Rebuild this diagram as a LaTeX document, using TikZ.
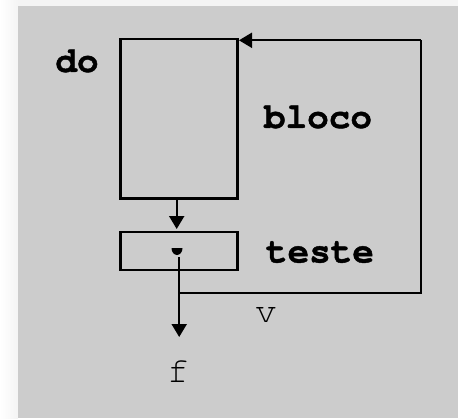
\documentclass[tikz,border=0pt]{standalone}
\usepackage{fontspec}
\setmonofont{texgyrecursor-regular.otf}[BoldFont=texgyrecursor-bold.otf, BoldFeatures={FakeBold=1.2}]
\usetikzlibrary{arrows.meta}
\definecolor{bggray}{HTML}{CCCCCC}
\definecolor{topstrip}{HTML}{F4F4F4}
\tikzset{
  boxstyle/.style={draw=black, line width=2.6pt, fill=bggray, inner sep=0pt},
  flow/.style={line width=2.2pt, -{Triangle[length=13pt,width=15pt]}},
  loopline/.style={line width=2.2pt},
  kw/.style={font=\fontsize{36}{36}\selectfont\ttfamily\bfseries, inner sep=0pt},
  lbl/.style={font=\fontsize{36}{36}\selectfont\ttfamily, inner sep=0pt},
}
\begin{document}
\begin{tikzpicture}[x=1pt,y=-1pt]
  \useasboundingbox (0,0) rectangle (458,418);
  % background
  \fill[white] (0,0) rectangle (458,418);
  \fill[topstrip] (18,0) rectangle (458,6);
  \shade[left color=white, right color=topstrip] (0,0) rectangle (18,418);
  \fill[bggray] (18,6) rectangle (458,418);
  % boxes
  \node[boxstyle, minimum width=117pt, minimum height=159.7pt] (bloco) at (179.2,118.9) {};
  \node[boxstyle, minimum width=117pt, minimum height=38pt] (teste) at (179.2,251) {};
  % dot
  \fill (171.5,248) arc[start angle=180, end angle=360, x radius=5.5pt, y radius=7pt] -- cycle;
  \coordinate (dot) at (179.2,257);
  \coordinate (vjoin) at (179.2,292.7);
  \coordinate (rightc) at (420.7,292.7);
  \coordinate (topc) at (420.7,40.3);
  \coordinate (fend) at (179.2,337);
  % connectors
  \draw[flow] (bloco.south -| 176.7,0) -- (176.7,229);
  \draw[flow] (dot) -- (fend);
  \draw[loopline] (vjoin) -- (rightc) -- (topc);
  \draw[flow] (topc) -- (topc -| bloco.east);
  % labels
  \node[kw] (do) at (77,61) {do};
  \node[kw] (lbloco) at (318,117) {bloco};
  \node[kw] (lteste) at (320,252) {teste};
  \node[lbl] (v) at (266,315) {v};
  \node[lbl] (f) at (178,372) {f};
\end{tikzpicture}
\end{document}
